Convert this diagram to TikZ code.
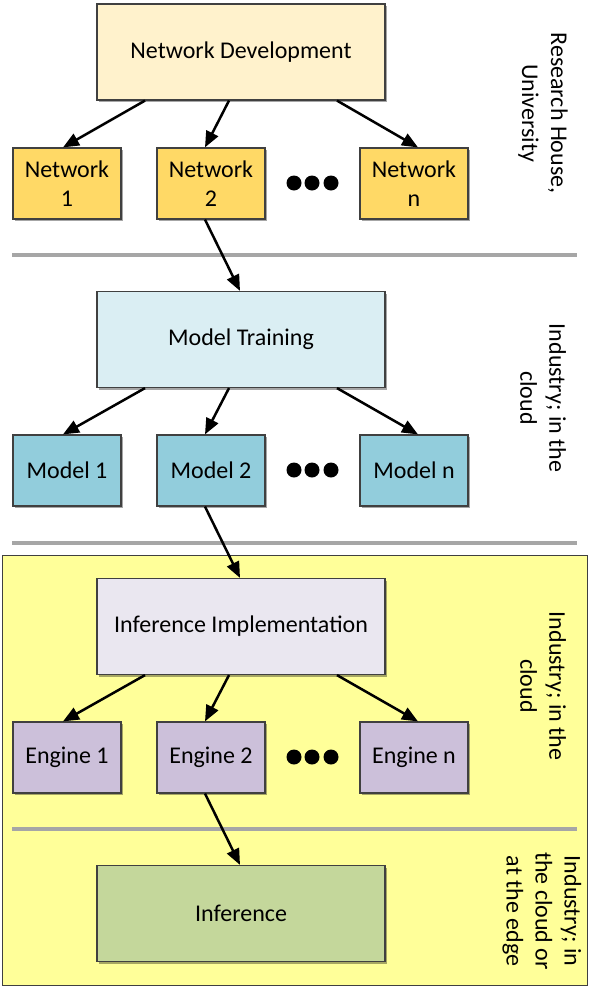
\documentclass[tikz,border=0pt]{standalone}
\usepackage{fontspec}
\setmainfont{Carlito}
\usetikzlibrary{arrows.meta,shadows,calc}
\definecolor{boxline}{HTML}{404040}
\definecolor{sepgray}{HTML}{A6A6A6}
\definecolor{yellowbg}{HTML}{FFFF99}
\definecolor{ndfill}{HTML}{FFF2CC}
\definecolor{netfill}{HTML}{FFD966}
\definecolor{mtfill}{HTML}{DAEEF3}
\definecolor{modfill}{HTML}{92CDDC}
\definecolor{iifill}{HTML}{EAE7F0}
\definecolor{engfill}{HTML}{CCC0DA}
\definecolor{inffill}{HTML}{C4D79B}
\newcommand{\mainsize}{\fontsize{24}{29}\selectfont}
\begin{document}
\begin{tikzpicture}[x=1pt,y=-1pt,
  box/.style={draw=boxline, line width=1.2pt, align=center, inner sep=0pt,
    drop shadow={shadow xshift=2pt,shadow yshift=-2pt,opacity=0.35,fill=black},
    font=\mainsize},
  big/.style={box, minimum width=288pt, minimum height=96pt},
  small/.style={box, minimum width=108pt, minimum height=71pt},
  arr/.style={line width=2.5pt, -{Triangle[length=16pt,width=13pt]}},
  sep/.style={draw=sepgray, line width=4pt},
  side/.style={rotate=-90, align=center, font=\mainsize, inner sep=0pt},
  dot/.style={circle, fill=black, minimum size=15pt, inner sep=0pt}
]
\useasboundingbox (0,0) rectangle (595,991);
% industry region
\draw[draw=boxline, fill=yellowbg, line width=1pt] (2,555) rectangle (587,985);
% separators
\draw[sep] (12,255) -- (577,255);
\draw[sep] (12,543) -- (577,543);
\draw[sep] (12,829) -- (577,829);

% row 1
\node[big, fill=ndfill] (nd) at (241,52) {Network Development};
\node[small, fill=netfill] (n1) at (67,183.5) {Network\\1};
\node[small, fill=netfill] (n2) at (211,183.5) {Network\\2};
\node[small, fill=netfill] (nn) at (414,183.5) {Network\\n};
\node[dot] (a1) at (294,183) {};
\node[dot] (a2) at (312,183) {};
\node[dot] (a3) at (331,183) {};

% row 2
\node[big, fill=mtfill] (mt) at (241,339.5) {Model Training};
\node[small, fill=modfill] (m1) at (67,470.5) {Model 1};
\node[small, fill=modfill] (m2) at (211,470.5) {Model 2};
\node[small, fill=modfill] (mn) at (414,470.5) {Model n};
\node[dot] (b1) at (294,470) {};
\node[dot] (b2) at (312,470) {};
\node[dot] (b3) at (331,470) {};

% row 3
\node[big, fill=iifill] (ii) at (241,626.5) {Inference Implementation};
\node[small, fill=engfill] (e1) at (67,757.5) {Engine 1};
\node[small, fill=engfill] (e2) at (211,757.5) {Engine 2};
\node[small, fill=engfill] (en) at (414,757.5) {Engine n};
\node[dot] (c1) at (294,757) {};
\node[dot] (c2) at (312,757) {};
\node[dot] (c3) at (331,757) {};

% row 4
\node[big, fill=inffill] (inf) at (241,913.5) {Inference};

% side labels
\node[side] (l1) at (543,113) {Research House,\\University};
\node[side] (l2) at (543,398) {Industry; in the\\cloud};
\node[side] (l3) at (543,686) {Industry; in the\\cloud};
\node[side] (l4) at (542,911) {Industry; in\\the cloud or\\at the edge};

% arrows
\draw[arr] ($(nd.south)+(-96,0)$) -- ($(n1.north)+(-4,0)$);
\draw[arr] ($(nd.south)+(-12,0)$) -- ($(n2.north)+(-6,0)$);
\draw[arr] ($(nd.south)+(96,0)$) -- ($(nn.north)+(4,0)$);
\draw[arr] ($(n2.south)+(-6,0)$) -- ($(mt.north)+(-1,0)$);

\draw[arr] ($(mt.south)+(-96,0)$) -- ($(m1.north)+(-4,0)$);
\draw[arr] ($(mt.south)+(-12,0)$) -- ($(m2.north)+(-6,0)$);
\draw[arr] ($(mt.south)+(96,0)$) -- ($(mn.north)+(4,0)$);
\draw[arr] ($(m2.south)+(-6,0)$) -- ($(ii.north)+(-1,0)$);

\draw[arr] ($(ii.south)+(-96,0)$) -- ($(e1.north)+(-4,0)$);
\draw[arr] ($(ii.south)+(-12,0)$) -- ($(e2.north)+(-6,0)$);
\draw[arr] ($(ii.south)+(96,0)$) -- ($(en.north)+(4,0)$);
\draw[arr] ($(e2.south)+(-6,0)$) -- ($(inf.north)+(-1,0)$);
\end{tikzpicture}
\end{document}
